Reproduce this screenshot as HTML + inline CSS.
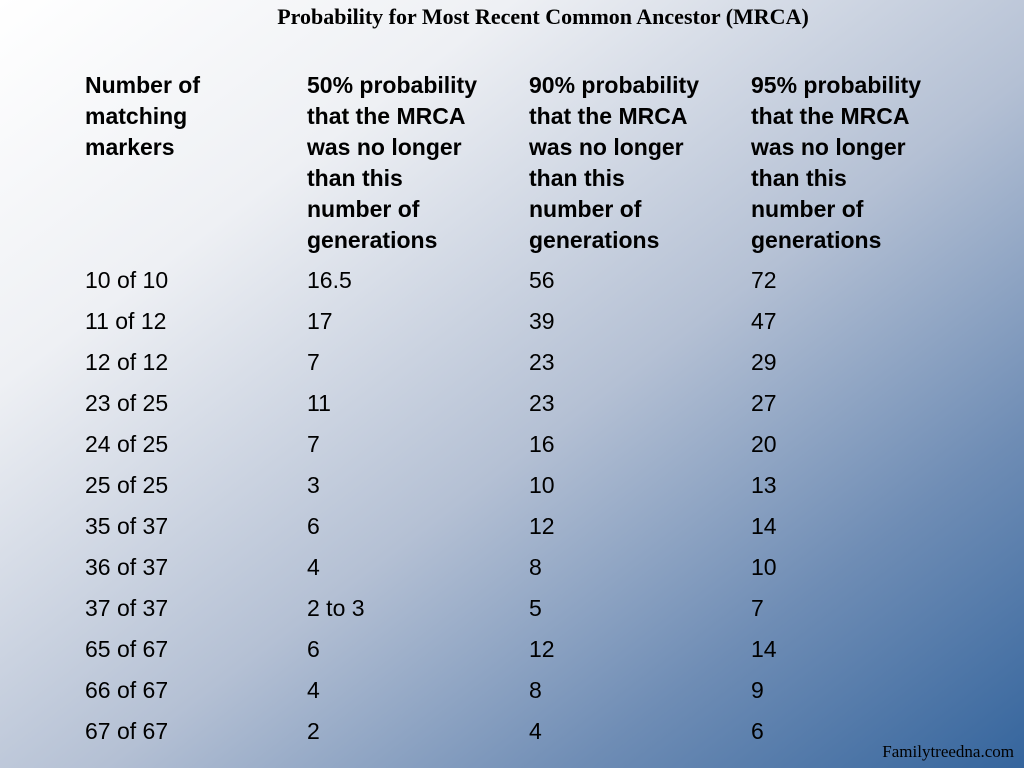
<!DOCTYPE html>
<html><head><meta charset="utf-8"><style>
html,body{margin:0;padding:0}
body{width:1024px;height:768px;position:relative;overflow:hidden;
background:linear-gradient(to bottom right,#ffffff 0%,#eef0f4 25%,#b4c0d4 55%,#6f8db5 78%,#35659d 100%);
font-family:"Liberation Sans",sans-serif;color:#000}
.title{position:absolute;left:0;width:1086px;top:4px;text-align:center;font-family:"Liberation Serif",serif;font-weight:bold;font-size:22px}
.h{position:absolute;top:70px;font-weight:bold;font-size:23px;line-height:31px}
.c{position:absolute;font-size:23px;line-height:28px}
.src{position:absolute;right:10px;bottom:6px;font-family:"Liberation Serif",serif;font-size:17px}
</style></head><body>
<div class="title">Probability for Most Recent Common Ancestor (MRCA)</div>
<div class="h" style="left:85px">Number of<br>matching<br>markers</div>
<div class="h" style="left:307px">50% probability<br>that the MRCA<br>was no longer<br>than this<br>number of<br>generations</div>
<div class="h" style="left:529px">90% probability<br>that the MRCA<br>was no longer<br>than this<br>number of<br>generations</div>
<div class="h" style="left:751px">95% probability<br>that the MRCA<br>was no longer<br>than this<br>number of<br>generations</div>
<div id="rows"></div>
<div class="src">Familytreedna.com</div>
<script>
const markers=["10 of 10","11 of 12","12 of 12","23 of 25","24 of 25","25 of 25","35 of 37","36 of 37","37 of 37","65 of 67","66 of 67","67 of 67"];
const p50=["16.5","17","7","11","7","3","6","4","2 to 3","6","4","2"];
const p90=["56","39","23","23","16","10","12","8","5","12","8","4"];
const p95=["72","47","29","27","20","13","14","10","7","14","9","6"];
const cols=[85,307,529,751];
const rowsEl=document.getElementById('rows');
markers.forEach((m,i)=>{
  [m,p50[i],p90[i],p95[i]].forEach((v,j)=>{
    const d=document.createElement('div');
    d.className='c';
    d.style.left=cols[j]+'px';
    d.style.top=(266+i*41)+'px';
    d.textContent=v;
    
    
    rowsEl.appendChild(d);
  });
});
</script>
</body></html>
